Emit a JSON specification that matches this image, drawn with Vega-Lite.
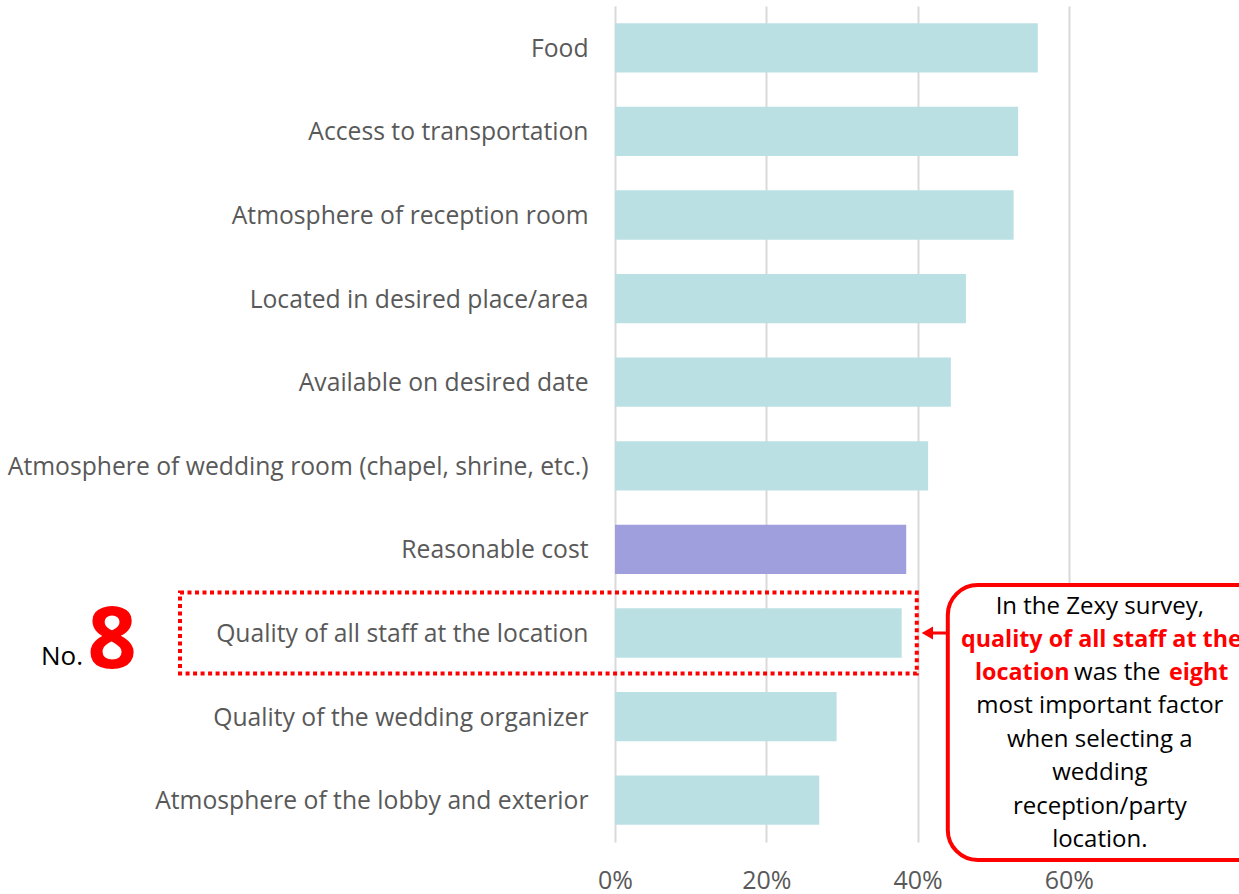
{
  "$schema": "https://vega.github.io/schema/vega-lite/v6.json",
  "width": 624,
  "height": 836,
  "autosize": {"type": "none"},
  "padding": {"left": 615, "top": 6, "right": 0, "bottom": 52},
  "config": {"view": {"stroke": null}, "font": "Open Sans"},
  "data": {"values": [
    {"factor": "Food", "value": 0.559, "highlight": "no"},
    {"factor": "Access to transportation", "value": 0.533, "highlight": "no"},
    {"factor": "Atmosphere of reception room", "value": 0.527, "highlight": "no"},
    {"factor": "Located in desired place/area", "value": 0.464, "highlight": "no"},
    {"factor": "Available on desired date", "value": 0.444, "highlight": "no"},
    {"factor": "Atmosphere of wedding room (chapel, shrine, etc.)", "value": 0.414, "highlight": "no"},
    {"factor": "Reasonable cost", "value": 0.385, "highlight": "yes"},
    {"factor": "Quality of all staff at the location", "value": 0.379, "highlight": "no"},
    {"factor": "Quality of the wedding organizer", "value": 0.293, "highlight": "no"},
    {"factor": "Atmosphere of the lobby and exterior", "value": 0.270, "highlight": "no"}
  ]},
  "layer": [
    {
      "mark": {"type": "bar"},
      "encoding": {
        "y": {"field": "factor", "type": "nominal",
          "scale": {"domain": ["Food", "Access to transportation", "Atmosphere of reception room", "Located in desired place/area", "Available on desired date", "Atmosphere of wedding room (chapel, shrine, etc.)", "Reasonable cost", "Quality of all staff at the location", "Quality of the wedding organizer", "Atmosphere of the lobby and exterior"], "paddingInner": 0.41, "paddingOuter": 0.205},
          "axis": {"title": null, "ticks": false, "domain": false, "grid": false, "labelFontSize": 24.7, "labelColor": "#595959", "labelPadding": 27, "labelLimit": 0, "labelOffset": 2}},
        "x": {"field": "value", "type": "quantitative",
          "scale": {"domain": [0, 0.825], "nice": false, "zero": false},
          "axis": {"title": null, "format": ".0%", "values": [0, 0.2, 0.4, 0.6], "ticks": false, "domain": false, "grid": true, "gridColor": "#d9d9d9", "gridWidth": 2, "labelFontSize": 25, "labelColor": "#595959", "labelPadding": 26, "labelFlush": false, "labelAlign": "center"}},
        "color": {"field": "highlight", "type": "nominal", "scale": {"domain": ["no", "yes"], "range": ["#BBE0E3", "#9F9FDE"]}, "legend": null}
      }
    },
    {
      "data": {"values": [{}]},
      "mark": {"type": "bar", "height": 81, "fill": "transparent", "stroke": "#FF0000", "strokeWidth": 4, "strokeDash": [4, 3.5]},
      "encoding": {
        "y": {"datum": "Quality of all staff at the location", "type": "nominal"},
        "x": {"datum": 0, "type": "quantitative", "scale": {"domain": [0, 0.825], "nice": false, "zero": false}},
        "x2": {"datum": 0.399},
        "xOffset": {"value": -435}
      }
    },
    {
      "data": {"values": [{}]},
      "mark": {"type": "bar", "height": 275, "yOffset": 89.5, "fill": "white", "stroke": "#FF0000", "strokeWidth": 4, "cornerRadius": 30, "x2Offset": 40},
      "encoding": {
        "y": {"datum": "Quality of all staff at the location", "type": "nominal"},
        "x": {"datum": 0.44, "type": "quantitative", "scale": {"domain": [0, 0.825], "nice": false, "zero": false}},
        "x2": {"datum": 0.825}
      }
    },
    {
      "data": {"values": [{}]},
      "mark": {"type": "rule", "color": "#FF0000", "strokeWidth": 3},
      "encoding": {
        "y": {"datum": "Quality of all staff at the location", "type": "nominal"},
        "x": {"datum": 0.418, "type": "quantitative", "scale": {"domain": [0, 0.825], "nice": false, "zero": false}},
        "x2": {"datum": 0.44}
      }
    },
    {
      "data": {"values": [{}]},
      "mark": {"type": "point", "shape": "triangle-left", "filled": true, "color": "#FF0000", "size": 170, "opacity": 1},
      "encoding": {
        "y": {"datum": "Quality of all staff at the location", "type": "nominal"},
        "x": {"datum": 0.413, "type": "quantitative", "scale": {"domain": [0, 0.825], "nice": false, "zero": false}}
      }
    },
    {
      "data": {"values": [{}]},
      "mark": {"type": "text", "text": "No.", "fontSize": 26, "color": "#000000", "align": "center", "baseline": "alphabetic", "dy": 32, "dx": -553},
      "encoding": {
        "y": {"datum": "Quality of all staff at the location", "type": "nominal"},
        "x": {"datum": 0, "type": "quantitative", "scale": {"domain": [0, 0.825], "nice": false, "zero": false}}
      }
    },
    {
      "data": {"values": [{}]},
      "mark": {"type": "text", "text": "8", "fontSize": 86, "fontWeight": "bold", "color": "#FF0000", "align": "center", "baseline": "alphabetic", "dy": 35, "dx": -503},
      "encoding": {
        "y": {"datum": "Quality of all staff at the location", "type": "nominal"},
        "x": {"datum": 0, "type": "quantitative", "scale": {"domain": [0, 0.825], "nice": false, "zero": false}}
      }
    },
    {
      "data": {"values": [{}]},
      "mark": {"type": "text", "text": "In the Zexy survey,", "fontSize": 24, "color": "#000000", "align": "center", "baseline": "middle", "dy": -26},
      "encoding": {
        "y": {"datum": "Quality of all staff at the location", "type": "nominal"},
        "x": {"datum": 0.641, "type": "quantitative", "scale": {"domain": [0, 0.825], "nice": false, "zero": false}}
      }
    },
    {
      "data": {"values": [{}]},
      "mark": {"type": "text", "text": "quality of all staff at the", "fontSize": 23.3, "fontWeight": "bold", "color": "#FF0000", "align": "center", "baseline": "middle", "dy": 7},
      "encoding": {
        "y": {"datum": "Quality of all staff at the location", "type": "nominal"},
        "x": {"datum": 0.643, "type": "quantitative", "scale": {"domain": [0, 0.825], "nice": false, "zero": false}}
      }
    },
    {
      "data": {"values": [{}]},
      "mark": {"type": "text", "text": "location", "fontSize": 23.3, "fontWeight": "bold", "color": "#FF0000", "align": "left", "baseline": "middle", "dy": 40},
      "encoding": {
        "y": {"datum": "Quality of all staff at the location", "type": "nominal"},
        "x": {"datum": 0.4759, "type": "quantitative", "scale": {"domain": [0, 0.825], "nice": false, "zero": false}}
      }
    },
    {
      "data": {"values": [{}]},
      "mark": {"type": "text", "text": "was the", "fontSize": 24, "color": "#000000", "align": "left", "baseline": "middle", "dy": 40},
      "encoding": {
        "y": {"datum": "Quality of all staff at the location", "type": "nominal"},
        "x": {"datum": 0.607, "type": "quantitative", "scale": {"domain": [0, 0.825], "nice": false, "zero": false}}
      }
    },
    {
      "data": {"values": [{}]},
      "mark": {"type": "text", "text": "eight", "fontSize": 23.3, "fontWeight": "bold", "color": "#FF0000", "align": "left", "baseline": "middle", "dy": 40},
      "encoding": {
        "y": {"datum": "Quality of all staff at the location", "type": "nominal"},
        "x": {"datum": 0.7323, "type": "quantitative", "scale": {"domain": [0, 0.825], "nice": false, "zero": false}}
      }
    },
    {
      "data": {"values": [{}]},
      "mark": {"type": "text", "text": ["most important factor", "when selecting a", "wedding", "reception/party", "location."], "lineHeight": 33.5, "fontSize": 24, "color": "#000000", "align": "center", "baseline": "middle", "dy": 73},
      "encoding": {
        "y": {"datum": "Quality of all staff at the location", "type": "nominal"},
        "x": {"datum": 0.641, "type": "quantitative", "scale": {"domain": [0, 0.825], "nice": false, "zero": false}}
      }
    }
  ]
}
